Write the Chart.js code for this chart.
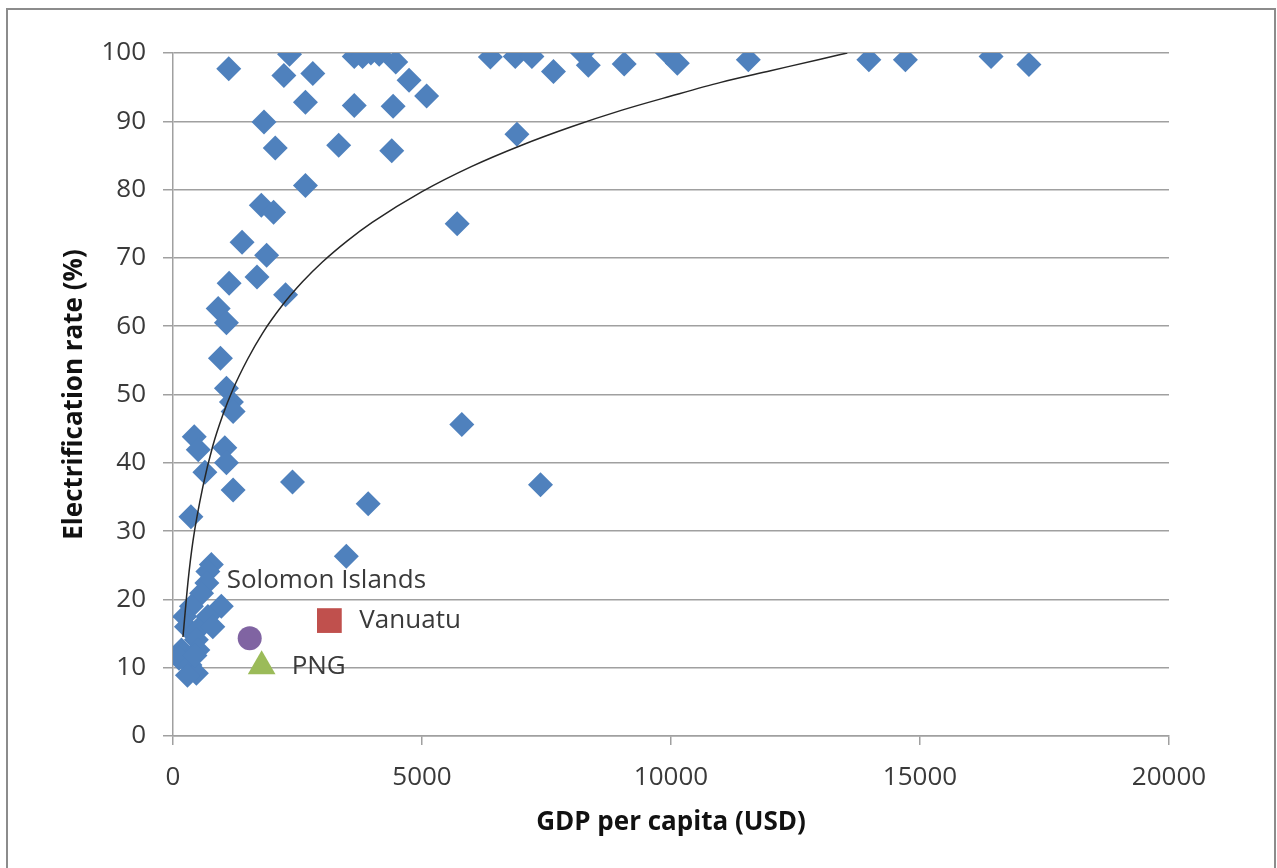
<!DOCTYPE html>
<html>
<head>
<meta charset="utf-8">
<title>Electrification rate vs GDP per capita</title>
<script src="https://cdn.jsdelivr.net/npm/chart.js@4"></script>
<style>
  html, body { margin: 0; padding: 0; background: #fff; }
  #wrap { position: relative; width: 1277px; height: 868px; }
</style>
</head>
<body>
<div id="wrap"><canvas id="chart"></canvas></div>
<script>
// country points: GDP per capita (USD), electrification rate (%)
const gdp = [
  1120, 2340, 2227, 2807, 2660, 3640, 4420, 3640, 3807, 3973,
  4140, 4473, 4740, 5093, 1827, 2053, 3327, 4393, 2660, 1773,
  2020, 1387, 1880, 1687, 1127, 2260, 907, 1073, 953, 1073,
  1173, 1207, 427, 507, 1040, 1073, 640, 1207, 360,
  770, 700, 680, 573, 370, 970, 235, 700, 270, 500,
  800, 470, 170, 500, 120, 340, 470, 290, 440,
  2400, 3480, 3920, 5800, 5707, 6373, 6873, 7207, 6907, 7380,
  7640, 8220, 8340, 9060, 9927, 10127, 11553, 13973, 14707, 16427,
  17187
];
const rate = [
  97.7, 99.8, 96.7, 97.0, 92.8, 92.3, 92.2, 99.5, 99.5, 100,
  99.8, 98.7, 96.0, 93.7, 89.9, 86.1, 86.5, 85.7, 80.6, 77.7,
  76.7, 72.3, 70.4, 67.2, 66.3, 64.6, 62.6, 60.5, 55.3, 50.9,
  48.9, 47.5, 43.8, 41.9, 42.2, 40.0, 38.6, 36.0, 32.1,
  25.1, 24.1, 22.4, 20.9, 19.0, 19.0, 17.5, 17.5, 16.0, 15.6,
  16.0, 14.1, 12.6, 12.6, 11.4, 10.4, 9.2, 8.9, 11.8,
  37.2, 26.3, 34.0, 45.6, 75.0, 99.4, 99.5, 99.5, 88.1, 36.8,
  97.3, 100, 98.2, 98.4, 100, 98.5, 99.0, 99.0, 99.0, 99.5,
  98.3
];

// trend line
const trendX = [200, 300, 400, 600, 800, 1000, 1200, 1500, 1800, 2200, 2600, 3000,
                3500, 4000, 5000, 6000, 7000, 8000, 9000, 10000, 11000, 12000, 13000, 13540];
const trendY = [14.5, 22.5, 28.5, 36.5, 42.5, 47, 50.7, 55.2, 59, 63.1, 66.5, 69.4,
                72.5, 75.2, 79.7, 83.4, 86.5, 89.2, 91.6, 93.7, 95.7, 97.4, 99.1, 100];

// highlighted Pacific countries
const pacNames = ['Solomon Islands', 'Vanuatu', 'PNG'];
const pacGdp = [1540, 3140, 1780];
const pacRate = [14.3, 16.9, 10.2];

const xTicks = [0, 5000, 10000, 15000, 20000];
const yTicks = [0, 10, 20, 30, 40, 50, 60, 70, 80, 90, 100];

const toPts = (xs, ys) => xs.map((x, i) => ({ x: x, y: ys[i] }));

const gridGrey = '#a0a0a0';
const textCol = '#3a3a3a';
const tickFont = { family: 'Open Sans', size: 26 };
const titleFont = { family: 'Open Sans', size: 26, weight: 'bold' };

// where each Pacific label sits relative to its marker
const labelOffset = [[-23, -58], [30, 0], [30, 0]];

const frame = {
  id: 'frame',
  beforeDraw(c) {
    const ctx = c.ctx;
    ctx.save();
    ctx.fillStyle = '#fff';
    ctx.fillRect(0, 0, c.width, c.height);
    ctx.strokeStyle = '#8c8c8c';
    ctx.lineWidth = 2;
    ctx.strokeRect(7, 9, 1268, 900);
    ctx.restore();
  }
};

const pacLabels = {
  id: 'pacLabels',
  afterDatasetsDraw(c) {
    const ctx = c.ctx;
    const xs = c.scales.x, ys = c.scales.y;
    ctx.save();
    ctx.font = '26px "Open Sans"';
    ctx.fillStyle = textCol;
    ctx.textAlign = 'left';
    ctx.textBaseline = 'middle';
    pacNames.forEach((name, i) => {
      const px = xs.getPixelForValue(pacGdp[i]) + labelOffset[i][0];
      const py = ys.getPixelForValue(pacRate[i]) + labelOffset[i][1];
      ctx.fillText(name, px, py);
    });
    ctx.restore();
  }
};

new Chart(document.getElementById('chart'), {
  type: 'scatter',
  data: {
    datasets: [
      {
        label: 'Trend',
        type: 'line',
        data: toPts(trendX, trendY),
        borderColor: '#262626',
        borderWidth: 1.5,
        pointRadius: 0,
        cubicInterpolationMode: 'monotone',
        fill: false,
        order: 0
      },
      {
        label: pacNames[0],
        data: [{ x: pacGdp[0], y: pacRate[0] }],
        pointStyle: 'circle',
        pointRadius: 12,
        backgroundColor: '#8064A2',
        borderColor: '#8064A2',
        borderWidth: 0,
        order: 1
      },
      {
        label: pacNames[1],
        data: [{ x: pacGdp[1], y: pacRate[1] }],
        pointStyle: 'rect',
        pointRadius: 17.5,
        backgroundColor: '#C0504D',
        borderColor: '#C0504D',
        borderWidth: 0,
        order: 1
      },
      {
        label: pacNames[2],
        data: [{ x: pacGdp[2], y: pacRate[2] }],
        pointStyle: 'triangle',
        pointRadius: 16,
        backgroundColor: '#9BBB59',
        borderColor: '#9BBB59',
        borderWidth: 0,
        order: 1
      },
      {
        label: 'Countries',
        data: toPts(gdp, rate),
        pointStyle: 'rectRot',
        pointRadius: 12.5,
        backgroundColor: '#4F81BD',
        borderColor: '#4F81BD',
        borderWidth: 0,
        order: 2
      }
    ]
  },
  options: {
    responsive: true,
    maintainAspectRatio: false,
    animation: false,
    layout: { padding: { top: 53, right: 108, left: 0, bottom: 0 } },
    plugins: {
      legend: { display: false },
      tooltip: { enabled: false }
    },
    scales: {
      x: {
        type: 'linear',
        min: 0,
        max: 20000,
        afterFit: s => { s.height = 132; },
        afterBuildTicks: s => { s.ticks = xTicks.map(v => ({ value: v })); },
        grid: { drawOnChartArea: false, drawTicks: true, tickLength: 9, color: gridGrey, lineWidth: 1.5 },
        border: { display: true, color: gridGrey, width: 1.5 },
        ticks: { font: tickFont, color: textCol, padding: 17, maxRotation: 0, callback: v => String(v) },
        title: {
          display: true,
          text: 'GDP per capita (USD)',
          font: titleFont,
          color: '#111',
          padding: { top: 0, bottom: 30 }
        }
      },
      y: {
        type: 'linear',
        min: 0,
        max: 100,
        afterFit: s => { s.width = 173; },
        afterBuildTicks: s => { s.ticks = yTicks.map(v => ({ value: v })); },
        grid: { drawOnChartArea: true, drawTicks: true, tickLength: 10, color: gridGrey, lineWidth: 1.5 },
        border: { display: true, color: gridGrey, width: 1.5 },
        ticks: { font: tickFont, color: textCol, padding: 17, callback: v => String(v) },
        title: {
          display: true,
          text: 'Electrification rate (%)',
          font: titleFont,
          color: '#111',
          padding: { top: 59, bottom: 0 }
        }
      }
    }
  },
  plugins: [frame, pacLabels]
});
</script>
</body>
</html>
